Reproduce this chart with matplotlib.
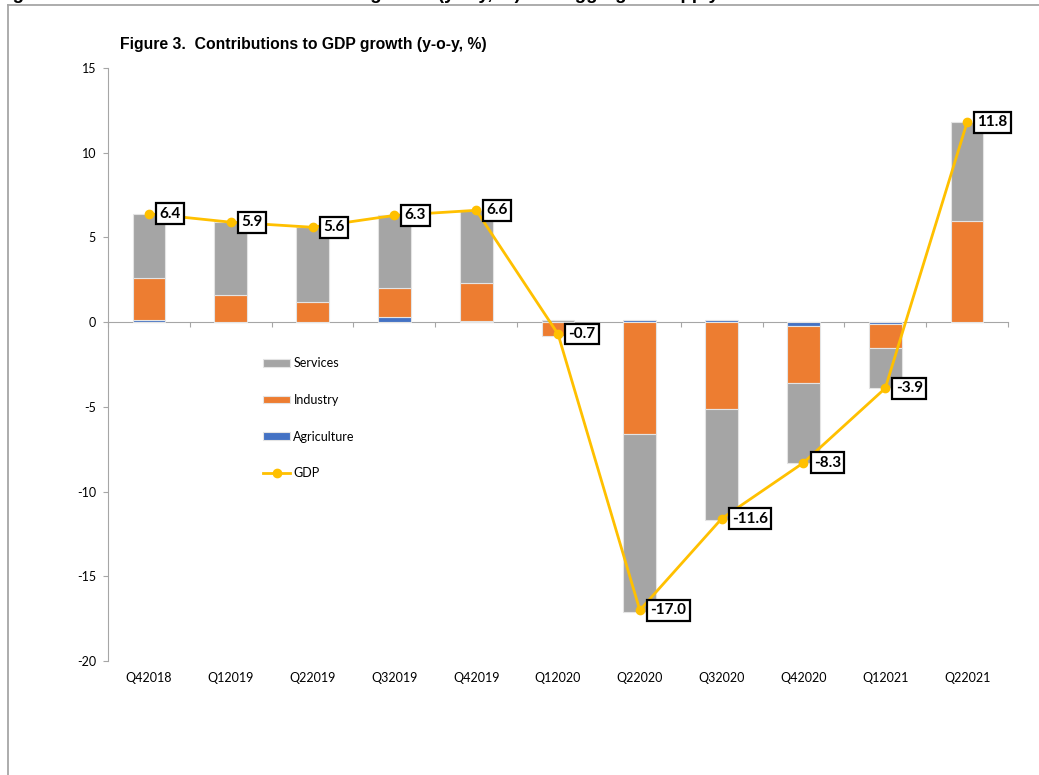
import matplotlib.pyplot as plt
import numpy as np
from matplotlib.lines import Line2D

quarters = ["Q42018", "Q12019", "Q22019", "Q32019", "Q42019", "Q12020",
            "Q22020", "Q32020", "Q42020", "Q12021", "Q22021"]
agriculture = [0.15, 0.03, 0.02, 0.3, 0.05, 0.0, 0.1, 0.1, -0.25, -0.1, 0.02]
industry = [2.45, 1.57, 1.15, 1.7, 2.25, -0.8, -6.6, -5.1, -3.35, -1.4, 5.93]
services = [3.8, 4.3, 4.43, 4.3, 4.3, 0.1, -10.5, -6.6, -4.7, -2.4, 5.85]
gdp = [6.4, 5.9, 5.6, 6.3, 6.6, -0.7, -17.0, -11.6, -8.3, -3.9, 11.8]

GRAY_AX = "#A6A6A6"
plt.rcParams["font.family"] = ["Lato", "DejaVu Sans"]
plt.rcParams["axes.unicode_minus"] = False

fig = plt.figure(figsize=(10.39, 7.75), dpi=100)

# frame of the surrounding page
W, H = 1039, 775
fig.add_artist(Line2D([8 / W, 1], [1 - 4.5 / H, 1 - 4.5 / H], transform=fig.transFigure,
                      color=GRAY_AX, lw=1.3))
fig.add_artist(Line2D([8 / W, 8 / W], [0, 1 - 4.5 / H], transform=fig.transFigure,
                      color=GRAY_AX, lw=1.3))

# page heading, cut off by the top edge (only descenders show)
fig.text(-4 / W, 1 + 0.5 / H,
         "Figure 2. Contributions of sectors to GDP growth (y-o-y, %) and aggregate supply",
         family="Liberation Sans", fontweight="bold", fontsize=13.5, va="baseline", ha="left")

fig.text(120 / W, 1 - 45 / H, "Figure 3.  Contributions to GDP growth (y-o-y, %)",
         family="Liberation Sans", fontweight="bold", fontsize=11.3, va="center", ha="left")

ax = fig.add_axes([108 / W, 1 - 661 / H, 900 / W, 593 / H])

x = np.arange(len(quarters))
pos_base = np.zeros(len(x))
neg_base = np.zeros(len(x))
handles = {}
for name, vals, col in [("Agriculture", agriculture, "#4472C4"),
                        ("Industry", industry, "#ED7D31"),
                        ("Services", services, "#A5A5A5")]:
    v = np.array(vals)
    bottom = np.where(v >= 0, pos_base, neg_base)
    handles[name] = ax.bar(x, v, 0.4, bottom=bottom, color=col,
                           edgecolor="#E4E4E4", linewidth=0.8, zorder=2)
    pos_base = pos_base + np.where(v >= 0, v, 0)
    neg_base = neg_base + np.where(v < 0, v, 0)

line, = ax.plot(x, gdp, color="#FFC000", lw=2, marker="o", markersize=6, zorder=4)

for xi, g in zip(x, gdp):
    ax.annotate(f"{g:.1f}", (xi, g), xytext=(7.5, 0), textcoords="offset points",
                ha="left", va="center", fontsize=11, fontweight="bold", zorder=5,
                bbox=dict(boxstyle="square,pad=0.22", fc="white", ec="black", lw=1.6))

ax.set_xlim(-0.5, len(x) - 0.5)
ax.set_ylim(-20, 15)
ax.set_yticks(np.arange(-20, 16, 5))
ax.set_xticks(x)
ax.set_xticklabels(quarters)
ax.tick_params(axis="x", length=0, pad=8, labelsize=9)
ax.tick_params(axis="y", length=3.6, color=GRAY_AX, pad=5, labelsize=9)

for s in ["top", "right", "bottom"]:
    ax.spines[s].set_visible(False)
ax.spines["left"].set_color(GRAY_AX)

# category axis drawn at zero
zero = ax.secondary_xaxis(20 / 35)
zero.set_alignment("bottom")
zero.set_xticks(np.arange(-0.5, len(x), 1))
zero.set_xticklabels([])
zero.tick_params(direction="out", length=3.6, color=GRAY_AX)
zero.spines["bottom"].set_color(GRAY_AX)

ax.legend([handles["Services"], handles["Industry"], handles["Agriculture"], line],
          ["Services", "Industry", "Agriculture", "GDP"],
          loc="upper left", bbox_to_anchor=(0.172, 0.512), frameon=False, fontsize=9,
          labelspacing=1.97, handlelength=2.2, handleheight=0.55, handletextpad=0.25,
          borderpad=0, borderaxespad=0)

fig.savefig("out.png", dpi=100)
